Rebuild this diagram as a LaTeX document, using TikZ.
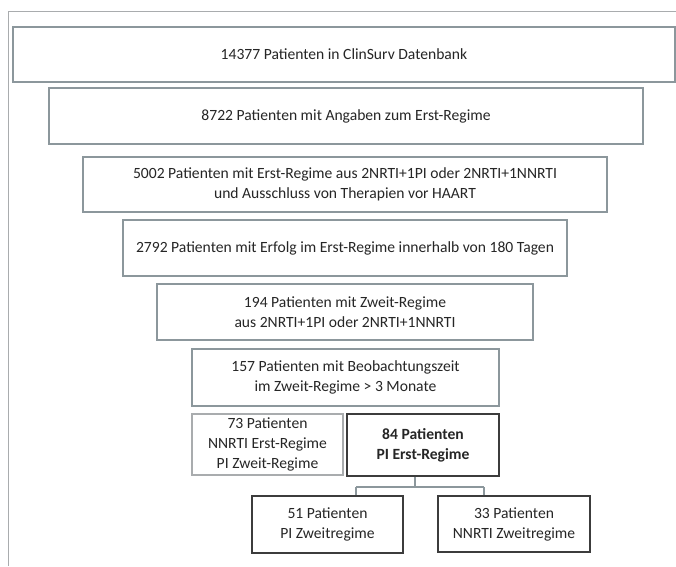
\documentclass[tikz,border=0pt]{standalone}
\usepackage{fontspec}
\setmainfont{Carlito}
\definecolor{frameGray}{HTML}{A9ACAE}
\definecolor{boxGray}{HTML}{8C979C}
\definecolor{boxDark}{HTML}{3C3C3C}
\definecolor{textGray}{HTML}{262626}
\tikzset{
  funnelbox/.style={draw=boxGray, line width=1.2pt, inner sep=0pt, align=center,
    text=textGray, font=\fontsize{15.6}{20}\selectfont},
  resultbox/.style={funnelbox, draw=boxDark, line width=1.6pt},
  link/.style={draw=boxGray, line width=1.2pt}
}
\begin{document}
\begin{tikzpicture}[x=1pt, y=-1pt]
  \useasboundingbox (0,0) rectangle (676,566);
  \fill[white] (0,0) rectangle (676,566);

  % Outer frame (top and left only)
  \draw[frameGray, line width=1pt] (8,566) -- (8,11) -- (676,11);

  % Selection steps
  \node[funnelbox, minimum width=662pt, minimum height=55pt] (total) at (344,54.5)
    {14377 Patienten in ClinSurv Datenbank};
  \node[funnelbox, minimum width=594pt, minimum height=56pt] (first) at (346,116)
    {8722 Patienten mit Angaben zum Erst-Regime};
  \node[funnelbox, minimum width=524pt, minimum height=55pt] (regimen) at (345,184.5)
    {5002 Patienten mit Erst-Regime aus 2NRTI+1PI oder 2NRTI+1NNRTI\\und Ausschluss von Therapien vor HAART};
  \node[funnelbox, minimum width=444pt, minimum height=56pt] (success) at (345,248)
    {2792 Patienten mit Erfolg im Erst-Regime innerhalb von 180 Tagen};
  \node[funnelbox, minimum width=376pt, minimum height=56pt] (second) at (345,312)
    {194 Patienten mit Zweit-Regime\\aus 2NRTI+1PI oder 2NRTI+1NNRTI};
  \node[funnelbox, minimum width=307pt, minimum height=57pt] (observed) at (345.5,377.5)
    {157 Patienten mit Beobachtungszeit\\im Zweit-Regime > 3 Monate};

  % Split by first regimen
  \node[funnelbox, draw=frameGray, minimum width=151pt, minimum height=61pt] (nnrtiFirst) at (267.5,444.5)
    {73 Patienten\\NNRTI Erst-Regime\\PI Zweit-Regime};
  \node[resultbox, font=\fontsize{15.6}{20}\selectfont\bfseries, minimum width=152pt, minimum height=62pt] (piFirst) at (423,445)
    {84 Patienten\\PI Erst-Regime};

  % Split by second regimen
  \node[resultbox, minimum width=151pt, minimum height=57pt] (piSecond) at (327.5,524.5)
    {51 Patienten\\PI Zweitregime};
  \node[resultbox, minimum width=152pt, minimum height=56pt] (nnrtiSecond) at (514,524)
    {33 Patienten\\NNRTI Zweitregime};

  % Connectors
  \coordinate (split) at (415,487);
  \coordinate (splitL) at (356,487);
  \coordinate (splitR) at (484,487);
  \draw[link] (piFirst.south -| split) -- (split);
  \draw[link] (splitL) -- (splitR);
  \draw[link] (splitL) -- (splitL |- piSecond.north);
  \draw[link] (splitR) -- (splitR |- nnrtiSecond.north);
\end{tikzpicture}
\end{document}
